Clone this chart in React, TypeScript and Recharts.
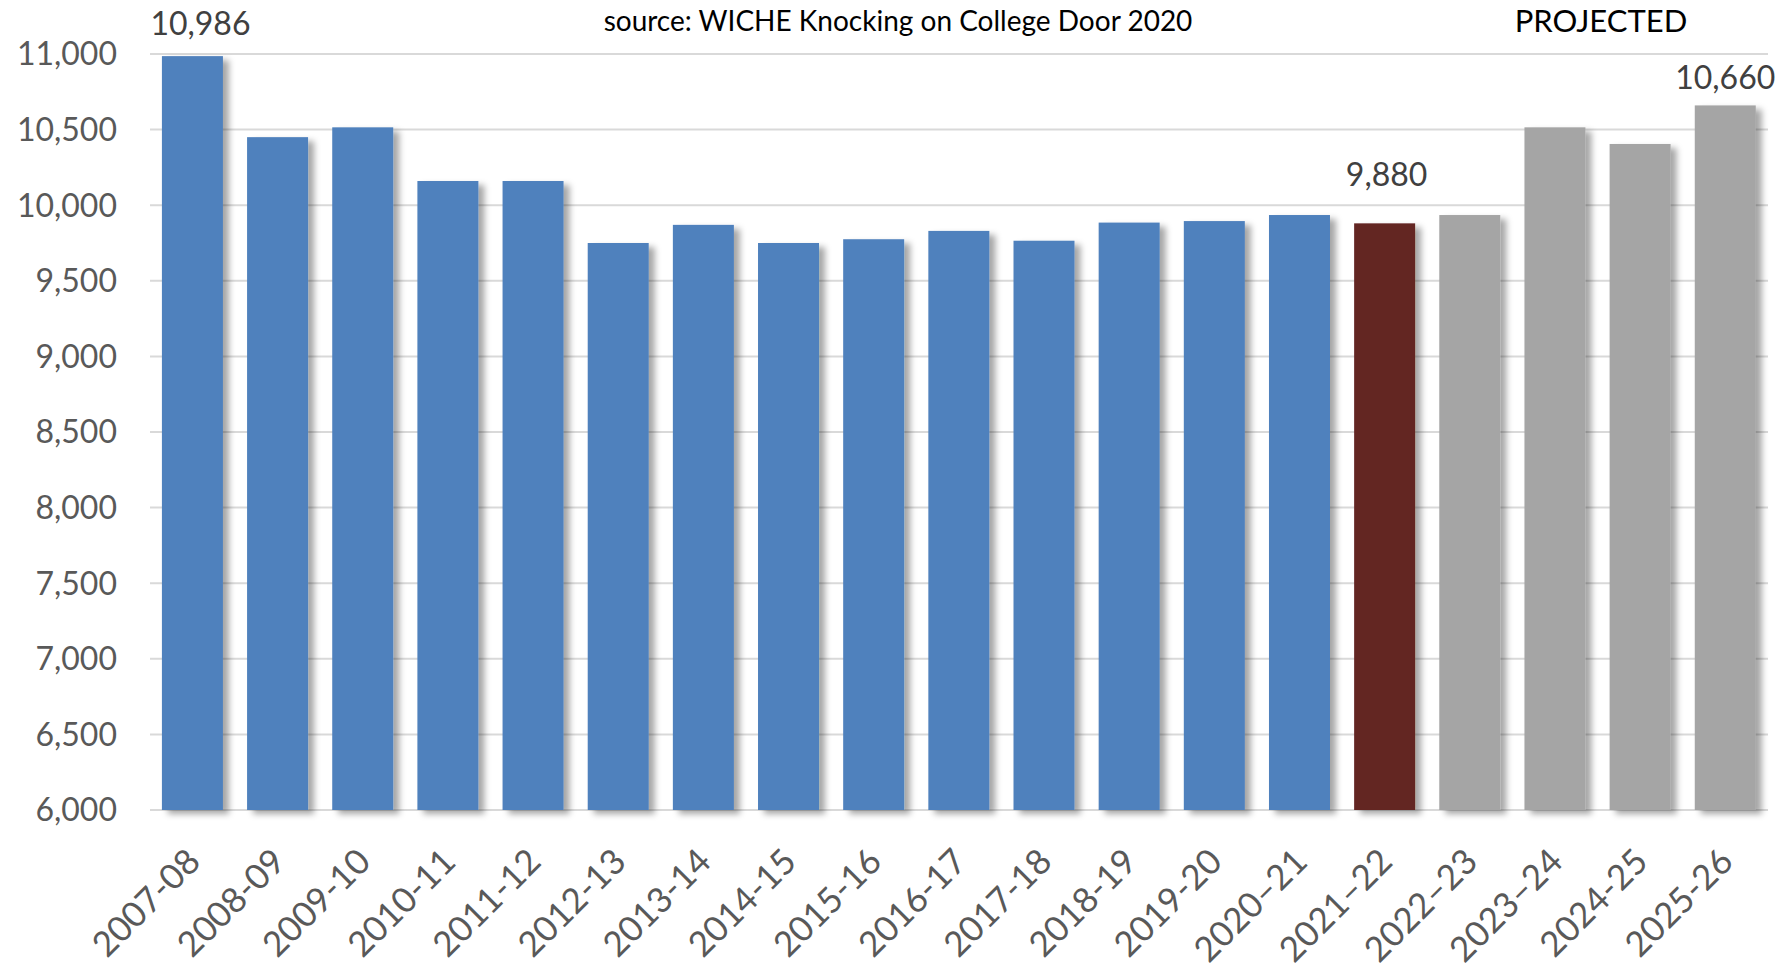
import { Bar, BarChart, CartesianGrid, LabelList, XAxis, YAxis } from "recharts";

const years = [
  "2007-08", "2008-09", "2009-10", "2010-11", "2011-12", "2012-13", "2013-14",
  "2014-15", "2015-16", "2016-17", "2017-18", "2018-19", "2019-20", "2020–21",
  "2021–22", "2022–23", "2023–24", "2024-25", "2025-26",
];

const graduates = [
  10986, 10450, 10515, 10160, 10160, 9750, 9870, 9750, 9775, 9830,
  9765, 9885, 9895, 9935, 9880, 9935, 10515, 10405, 10660,
];

// actual / current year / projected
const kinds = [
  "actual", "actual", "actual", "actual", "actual", "actual", "actual",
  "actual", "actual", "actual", "actual", "actual", "actual", "actual",
  "current", "projected", "projected", "projected", "projected",
];

const yTicks = [6000, 6500, 7000, 7500, 8000, 8500, 9000, 9500, 10000, 10500, 11000];

const KIND_COLOR: Record<string, string> = {
  actual: "#4F81BD",
  current: "#632523",
  projected: "#A5A5A5",
};

const FONT = "Lato, 'Open Sans', sans-serif";
const TICK_COLOR = "#595959";

// which bars get a value label, and how far above the bar it sits
const LABEL_LIFT: Record<number, { dx: number; dy: number }> = {
  0: { dx: 8, dy: 34 },
  14: { dx: 2, dy: 50 },
  18: { dx: 0, dy: 29 },
};

const rows = years.map((year, i) => ({ year, value: graduates[i], kind: kinds[i] }));

function BarShape(props: any) {
  const { x, y, width, height, index } = props;
  return (
    <rect
      x={x}
      y={y}
      width={width}
      height={height}
      fill={KIND_COLOR[kinds[index]]}
      filter="url(#barShadow)"
    />
  );
}

function XTick({ x, y, payload }: any) {
  return (
    <g transform={`translate(${x + 1},${y + 37})`}>
      <text textAnchor="end" transform="rotate(-45)" dy="0.35em" fill={TICK_COLOR} fontSize={35} fontFamily={FONT}>
        {payload.value}
      </text>
    </g>
  );
}

function ValueLabel(props: any) {
  const { x, y, width, value, index } = props;
  const lift = LABEL_LIFT[index];
  if (!lift) return null;
  return (
    <text
      x={x + width / 2 + lift.dx}
      y={y - lift.dy}
      textAnchor="middle"
      dominantBaseline="central"
      fill="#404040"
      fontSize={32}
      fontFamily={FONT}
    >
      {Number(value).toLocaleString("en-US")}
    </text>
  );
}

export default function App() {
  return (
    <div style={{ position: "absolute", left: 0, top: 0, width: 1788, height: 969, background: "#fff" }}>
      <svg width={0} height={0} style={{ position: "absolute" }}>
        <defs>
          <filter id="barShadow" x="-20%" y="-20%" width="160%" height="140%">
            <feDropShadow dx={6} dy={4} stdDeviation={3} floodColor="#000" floodOpacity={0.35} />
          </filter>
        </defs>
      </svg>
      <BarChart
        width={1788}
        height={969}
        data={rows}
        margin={{ top: 54, right: 20, bottom: 0, left: 0 }}
        barCategoryGap="14%"
      >
        <CartesianGrid vertical={false} stroke="#D9D9D9" strokeWidth={2} />
        <XAxis
          dataKey="year"
          interval={0}
          height={159}
          axisLine={false}
          tickLine={false}
          tick={<XTick />}
        />
        <YAxis
          domain={[6000, 11000]}
          ticks={yTicks}
          width={150}
          axisLine={false}
          tickLine={false}
          tickMargin={27}
          tick={{ fill: TICK_COLOR, fontSize: 32, fontFamily: FONT }}
          tickFormatter={(v: number) => v.toLocaleString("en-US")}
        />
        <Bar dataKey="value" shape={<BarShape />} isAnimationActive={false}>
          <LabelList dataKey="value" content={<ValueLabel />} />
        </Bar>
      </BarChart>
      <div
        style={{
          position: "absolute",
          left: 898,
          top: 20,
          transform: "translate(-50%, -50%)",
          whiteSpace: "nowrap",
          fontFamily: FONT,
          fontSize: 28,
          color: "#000",
        }}
      >
        source: WICHE Knocking on College Door 2020
      </div>
      <div
        style={{
          position: "absolute",
          left: 1601,
          top: 20,
          transform: "translate(-50%, -50%)",
          whiteSpace: "nowrap",
          fontFamily: FONT,
          fontSize: 31,
          color: "#000",
        }}
      >
        PROJECTED
      </div>
    </div>
  );
}
